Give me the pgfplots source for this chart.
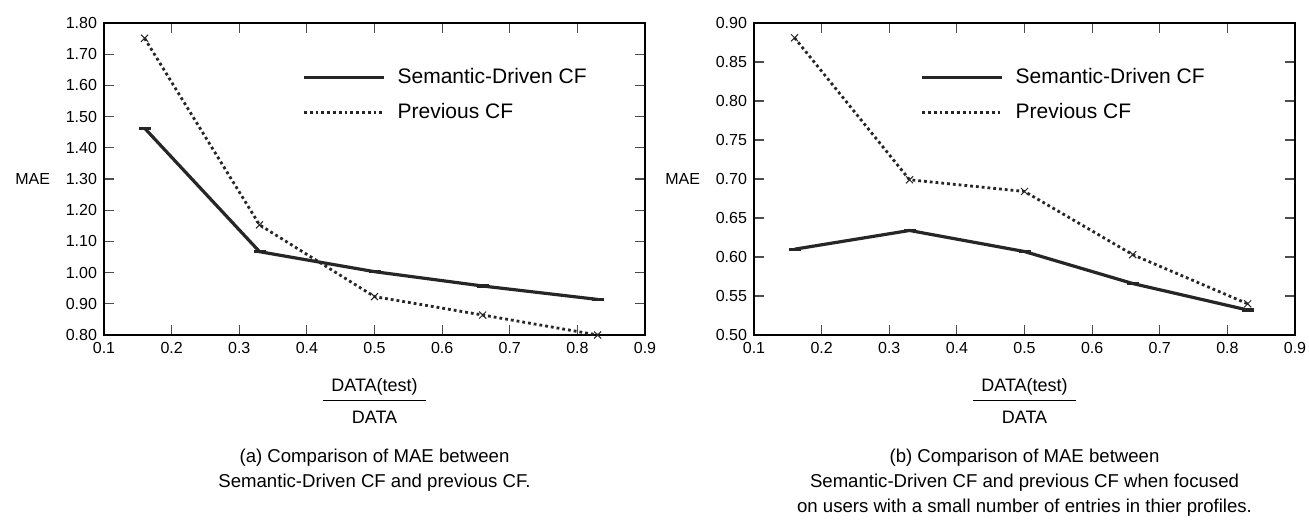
\documentclass[border=0pt]{standalone}
\usepackage{pgfplots}
\pgfplotsset{compat=1.18}
\usepackage{fontspec}
\setmainfont{Liberation Sans}

\pgfplotstableread{
x     sem    prev
0.16  1.463  1.751
0.33  1.067  1.153
0.50  1.003  0.923
0.66  0.957  0.864
0.83  0.914  0.800
}\dataA

\pgfplotstableread{
x     sem    prev
0.16  0.610  0.881
0.33  0.634  0.699
0.50  0.607  0.684
0.66  0.566  0.603
0.83  0.532  0.540
}\dataB

\pgfplotsset{
  common/.style={
    scale only axis,
    width=270.5pt, height=156pt,
    xmin=0.1, xmax=0.9,
    xtick={0.1,0.2,0.3,0.4,0.5,0.6,0.7,0.8,0.9},
    tick align=inside,
    major tick length=5pt,
    axis line style={line width=0.6pt},
    tick style={line width=0.6pt, color=black!70},
    ticklabel style={font=\fontsize{8}{9.6}\selectfont},
    /pgf/number format/assume math mode=true,
    xticklabel style={/pgf/number format/.cd, fixed, precision=1},
    yticklabel style={/pgf/number format/.cd, fixed, fixed zerofill, precision=2},
    ylabel={MAE},
    every axis y label/.style={at={(axis description cs:-0.132,0.5)}, anchor=center, font=\fontsize{8}{9.6}\selectfont},
    xlabel={\setlength\tabcolsep{4pt}\begin{tabular}{c}DATA(test)\\[1pt]\hline\rule{0pt}{11pt}DATA\end{tabular}},
    every axis x label/.style={at={(axis description cs:0.5,0)}, anchor=center, yshift=-34pt, font=\fontsize{9}{11}\selectfont},
    clip=false,
    legend cell align=left,
    legend style={draw=none, fill=none, inner sep=0pt, anchor=west,
      font=\fontsize{10.5}{12.5}\selectfont, row sep=7.9pt, column sep=0pt,
      nodes={inner sep=0pt, text height=7.6pt, text depth=2pt}},
    legend image code/.code={\draw[#1, mark=none] (0pt,0pt) -- (40pt,0pt); \path (46pt,0pt);},
  },
  sem/.style={black!85, line width=1.6pt, mark=-, mark size=3pt, mark options={solid, line width=1.6pt}},
  prev/.style={black!85, line width=1.4pt, dash pattern=on 1.4pt off 1.5pt, mark=x, mark size=2.5pt, mark options={solid, line width=0.5pt}},
}

\begin{document}
\begin{tikzpicture}[x=1pt,y=1pt]
\path[use as bounding box] (0,0) rectangle (654.5,262);

\begin{axis}[common,
  at={(52pt,94.5pt)}, anchor=south west,
  ymin=0.8, ymax=1.8,
  ytick={0.8,0.9,1.0,1.1,1.2,1.3,1.4,1.5,1.6,1.7,1.8},
  legend style={at={(axis description cs:0.366,0.768)}},
]
\addplot[sem] table[x=x, y=sem] {\dataA};
\addlegendentry{Semantic-Driven CF}
\addplot[prev] table[x=x, y=prev] {\dataA};
\addlegendentry{Previous CF}
\node[align=center, anchor=center, font=\fontsize{9.3}{12.5}\selectfont, yshift=-67.75pt]
  at (axis description cs:0.5,0) {(a) Comparison of MAE between\\Semantic-Driven CF and previous CF.};
\end{axis}

\begin{axis}[common,
  at={(377pt,94.5pt)}, anchor=south west,
  ymin=0.5, ymax=0.9,
  ytick={0.5,0.55,0.6,0.65,0.7,0.75,0.8,0.85,0.9},
  legend style={at={(axis description cs:0.307,0.768)}},
]
\addplot[sem] table[x=x, y=sem] {\dataB};
\addlegendentry{Semantic-Driven CF}
\addplot[prev] table[x=x, y=prev] {\dataB};
\addlegendentry{Previous CF}
\node[align=center, anchor=center, font=\fontsize{9.3}{12.5}\selectfont, yshift=-74pt]
  at (axis description cs:0.5,0) {(b) Comparison of MAE between\\Semantic-Driven CF and previous CF when focused\\on users with a small number of entries in thier profiles.};
\end{axis}
\end{tikzpicture}
\end{document}
